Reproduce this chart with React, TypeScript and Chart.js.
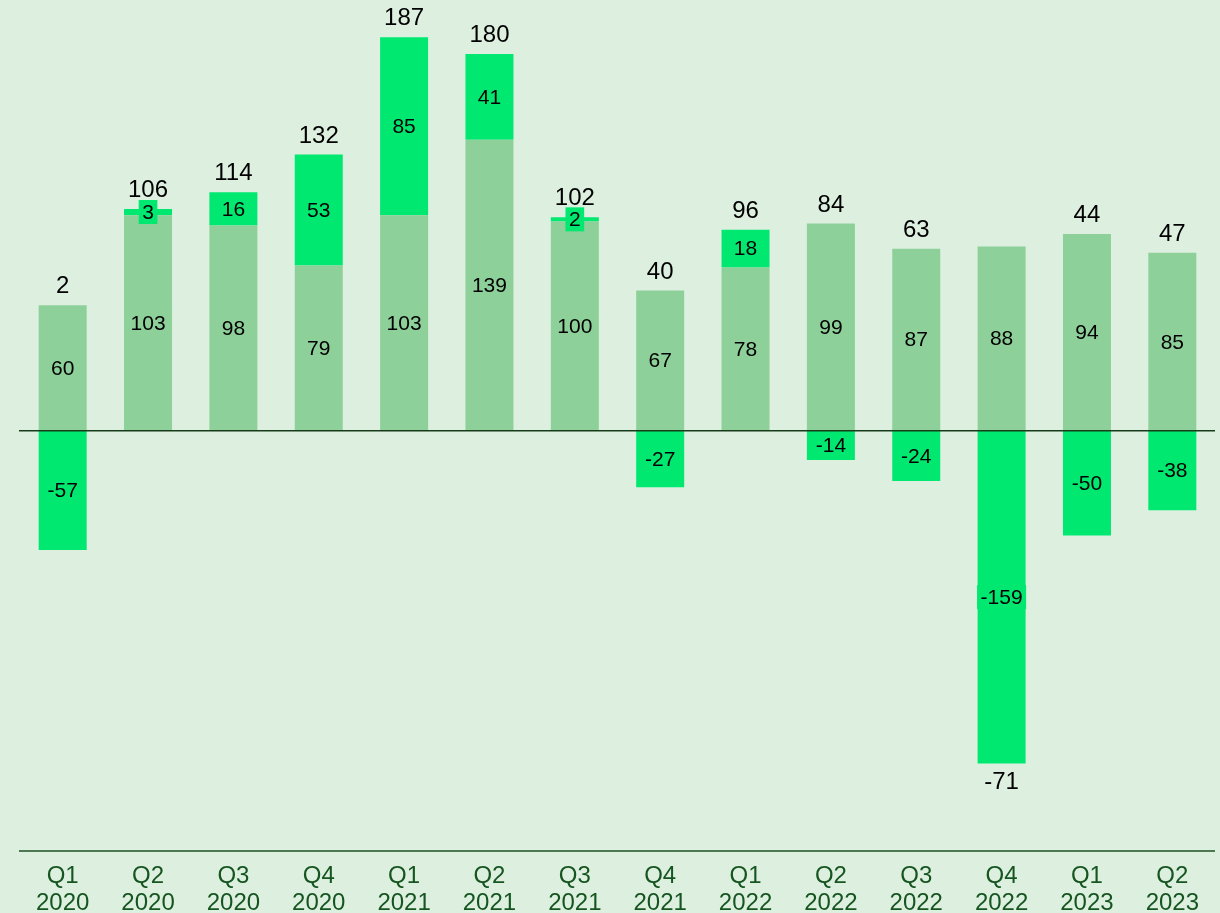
import React, { useEffect, useRef } from "react";
import { Chart, registerables } from "chart.js";

Chart.register(...registerables);

const quarters = ["Q1", "Q2", "Q3", "Q4", "Q1", "Q2", "Q3", "Q4", "Q1", "Q2", "Q3", "Q4", "Q1", "Q2"];
const years = ["2020", "2020", "2020", "2020", "2021", "2021", "2021", "2021", "2022", "2022", "2022", "2022", "2023", "2023"];
const baseValues = [60, 103, 98, 79, 103, 139, 100, 67, 78, 99, 87, 88, 94, 85];
const changeValues = [-57, 3, 16, 53, 85, 41, 2, -27, 18, -14, -24, -159, -50, -38];
const totals = [2, 106, 114, 132, 187, 180, 102, 40, 96, 84, 63, -71, 44, 47];

const BG = "rgb(221,240,224)";
const LIGHT = "rgb(142,208,153)";
const BRIGHT = "rgb(0,232,112)";
const AXIS_TEXT = "rgb(22,85,32)";
const LINE = "rgb(22,60,26)";
const FONT = "'Liberation Sans', Arial, sans-serif";

const labelsPlugin = {
  id: "customLabels",
  afterDatasetsDraw(chart: any) {
    const ctx = chart.ctx;
    const area = chart.chartArea;
    const xScale = chart.scales.x;
    const yScale = chart.scales.y;
    ctx.save();
    // zero line
    const y0 = yScale.getPixelForValue(0);
    ctx.strokeStyle = LINE;
    ctx.lineWidth = 1.5;
    ctx.beginPath();
    ctx.moveTo(area.left - 1, y0);
    ctx.lineTo(area.right, y0);
    ctx.stroke();
    // bottom axis line
    ctx.strokeStyle = "rgb(30,80,34)";
    ctx.beginPath();
    ctx.moveTo(area.left - 1, area.bottom);
    ctx.lineTo(area.right, area.bottom);
    ctx.stroke();

    // segment labels
    ctx.font = `21px ${FONT}`;
    ctx.textAlign = "center";
    ctx.textBaseline = "middle";
    chart.data.datasets.forEach((ds: any, di: number) => {
      const meta = chart.getDatasetMeta(di);
      meta.data.forEach((bar: any, i: number) => {
        const v = ds.data[i];
        const cy = (bar.y + bar.base) / 2;
        const txt = String(v);
        const w = ctx.measureText(txt).width + 7;
        ctx.fillStyle = ds.backgroundColor;
        ctx.fillRect(bar.x - w / 2, cy - 12, w, 24);
        ctx.fillStyle = "#000";
        ctx.fillText(txt, bar.x, cy + 1);
      });
    });

    // totals
    ctx.font = `24px ${FONT}`;
    totals.forEach((t, i) => {
      const x = xScale.getPixelForValue(i);
      let pos = 0;
      let neg = 0;
      [baseValues[i], changeValues[i]].forEach((v) => {
        if (v >= 0) pos += v;
        else neg += v;
      });
      ctx.fillStyle = "#000";
      if (t >= 0) {
        const top = yScale.getPixelForValue(pos);
        ctx.fillText(String(t), x, top - 18.5);
      } else {
        const bottom = yScale.getPixelForValue(neg);
        ctx.fillText(String(t), x, bottom + 19);
      }
    });

    // x labels
    ctx.fillStyle = AXIS_TEXT;
    ctx.font = `24px ${FONT}`;
    quarters.forEach((q, i) => {
      const x = xScale.getPixelForValue(i);
      ctx.fillText(q, x, 876);
      ctx.fillText(years[i], x, 903);
    });
    ctx.restore();
  },
};

export default function App() {
  const ref = useRef<HTMLCanvasElement | null>(null);
  useEffect(() => {
    document.body.style.margin = "0";
    document.body.style.background = BG;
    const chart = new Chart(ref.current as HTMLCanvasElement, {
      type: "bar",
      data: {
        labels: quarters.map((q, i) => `${q} ${years[i]}`),
        datasets: [
          {
            label: "base",
            data: baseValues,
            backgroundColor: LIGHT,
            barPercentage: 0.5625,
            categoryPercentage: 1,
          },
          {
            label: "change",
            data: changeValues,
            backgroundColor: BRIGHT,
            barPercentage: 0.5625,
            categoryPercentage: 1,
          },
        ],
      },
      options: {
        responsive: false,
        animation: false,
        layout: { padding: { left: 20, right: 5, top: 0, bottom: 62 } },
        plugins: { legend: { display: false }, tooltip: { enabled: false } },
        scales: {
          x: { display: false, stacked: true },
          y: { display: false, stacked: true, min: -200.8, max: 205.8 },
        },
      },
      plugins: [labelsPlugin],
    });
    return () => chart.destroy();
  }, []);
  return (
    <div style={{ position: "absolute", left: 0, top: 0, width: 1220, height: 913, background: BG }}>
      <canvas ref={ref} width={1220} height={913} style={{ display: "block" }} />
    </div>
  );
}
